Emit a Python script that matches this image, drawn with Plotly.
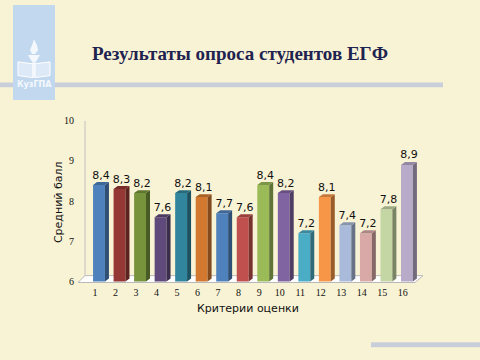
import plotly.graph_objects as go

# ---------------- data ----------------
criteria = list(range(1, 17))
scores = [8.4, 8.3, 8.2, 7.6, 8.2, 8.1, 7.7, 7.6, 8.4, 8.2, 7.2, 8.1, 7.4, 7.2, 7.8, 8.9]
bar_colors = ["#4F81BD", "#953735", "#77933C", "#604A7B", "#31859C", "#D2782F",
              "#4F81BD", "#C0504D", "#9BBB59", "#8064A2", "#4BACC6", "#F79646",
              "#A9BADA", "#D9A9A8", "#C4D6A4", "#B8ABCA"]
y_ticks = [6, 7, 8, 9, 10]
title_text = "Результаты опроса студентов ЕГФ"
x_title = "Критерии оценки"
y_title = "Средний балл"
logo_text = "КузГПА"

W, H = 480, 360
BG = "#F9F3D5"

# axis geometry (pixels)
PX_PER_CAT = 20.53
FIRST_PX = 99.0
X_DOM = (75, 430)
Y_DOM = (118, 286)
Y_MIN = 6 - 4 / 41.0
Y_MAX = 10


def px_to_x(px):
    return 1 + (px - FIRST_PX) / PX_PER_CAT


x_range = [px_to_x(X_DOM[0]), px_to_x(X_DOM[1])]

half = 0.29          # half front width (category units)
dx = 4 / PX_PER_CAT  # depth offset x
dy = 3 / 41.0        # depth offset y


def shade(hex_color, f):
    h = hex_color.lstrip("#")
    r, g, b = int(h[0:2], 16), int(h[2:4], 16), int(h[4:6], 16)
    if f < 1:
        r, g, b = int(r * f), int(g * f), int(b * f)
    else:
        t = f - 1
        r, g, b = int(r + (255 - r) * t), int(g + (255 - g) * t), int(b + (255 - b) * t)
    return f"rgb({r},{g},{b})"


fig = go.Figure()

# front faces
fig.add_trace(go.Bar(
    x=criteria, y=[s - 6 for s in scores], base=[6] * len(scores),
    width=2 * half, marker=dict(color=bar_colors, line=dict(width=0)),
    showlegend=False, hoverinfo="skip"))

# side and top faces
for c, s, col in zip(criteria, scores, bar_colors):
    xr = c + half
    fig.add_trace(go.Scatter(
        x=[xr, xr + dx, xr + dx, xr, xr], y=[6, 6 + dy, s + dy, s, 6],
        fill="toself", fillcolor=shade(col, 0.62), mode="lines",
        line=dict(width=0, color=shade(col, 0.62)), showlegend=False, hoverinfo="skip"))
    fig.add_trace(go.Scatter(
        x=[c - half, xr, xr + dx, c - half + dx, c - half], y=[s, s, s + dy, s + dy, s],
        fill="toself", fillcolor=shade(col, 0.8), mode="lines",
        line=dict(width=0, color=shade(col, 0.8)), showlegend=False, hoverinfo="skip"))

# data labels
fig.add_trace(go.Scatter(
    x=[c + dx / 2 for c in criteria], y=[s + dy + 0.02 for s in scores],
    mode="text", text=[f"{s:.1f}".replace(".", ",") for s in scores],
    textposition="top center",
    textfont=dict(family="DejaVu Sans", size=11, color="#111111"),
    showlegend=False, hoverinfo="skip", cliponaxis=False))

shapes = []
# floor
fl_front = 6 - 1 / 41.0
fl_back = 6 + 6 / 41.0
shapes.append(dict(
    type="path", xref="x", yref="y", layer="below",
    path=(f"M {px_to_x(78)},{fl_front} L {px_to_x(85)},{fl_back} "
          f"L {px_to_x(423)},{fl_back} L {px_to_x(415)},{fl_front} Z"),
    fillcolor="#FFFFFF", line=dict(color="#B8B8B8", width=1)))
# wall line
shapes.append(dict(type="line", xref="x", yref="y", layer="below",
                   x0=px_to_x(85), x1=px_to_x(85), y0=fl_back, y1=Y_MAX,
                   line=dict(color="#C0C0C0", width=1)))


def pp(px, py):
    return px / W, 1 - py / H


def prect(x0, y0, x1, y1, color):
    a = pp(x0, y0)
    b = pp(x1, y1)
    return dict(type="rect", xref="paper", yref="paper", x0=a[0], y0=b[1], x1=b[0], y1=a[1],
                fillcolor=color, line=dict(width=0), layer="below")


def ppath(points, fill, line_color=None, width=0):
    s = ""
    for i, (x, y) in enumerate(points):
        px, py = pp(x, y)
        s += ("M " if i == 0 else " L ") + f"{px:.5f},{py:.5f}"
    s += " Z"
    return dict(type="path", xref="paper", yref="paper", path=s, fillcolor=fill,
                line=dict(width=width, color=line_color or fill), layer="above")


# header line, logo, bottom line
shapes.append(prect(0, 79, 443, 84, "#C9CFDA"))
shapes.append(prect(13, 0, 55, 97, "#C2D8EF"))
shapes.append(prect(371, 344, 480, 349, "#C9CFDA"))
# logo icon (book + torch)
shapes.append(ppath([(18, 58), (33, 60), (33, 74), (18, 72)], "rgba(255,255,255,0.45)", "#FFFFFF", 1))
shapes.append(ppath([(35, 60), (50, 58), (50, 72), (35, 74)], "rgba(255,255,255,0.45)", "#FFFFFF", 1))
shapes.append(ppath([(28, 51), (40, 51), (36, 58), (32, 58)], "#F4F8FD"))
shapes.append(prect(32.5, 58, 35.5, 74, "#F4F8FD"))
shapes[-1]["layer"] = "above"
shapes.append(ppath([(34, 35), (37, 41), (38, 46), (35, 50), (32, 50), (30, 46), (32, 41)], "#F4F8FD"))

annotations = [
    dict(text=f"<b>{title_text}</b>", x=240 / W, y=1 - 49 / H, xref="paper", yref="paper",
         showarrow=False, xanchor="center", yanchor="middle",
         font=dict(family="Liberation Serif", size=19, color="#1F2350")),
    dict(text=x_title, x=248 / W, y=1 - 310 / H, xref="paper", yref="paper",
         showarrow=False, xanchor="center", yanchor="middle",
         font=dict(family="DejaVu Sans", size=11, color="#111111")),
    dict(text=y_title, x=58 / W, y=1 - 201 / H, xref="paper", yref="paper",
         showarrow=False, xanchor="center", yanchor="middle", textangle=-90,
         font=dict(family="DejaVu Sans", size=11, color="#111111")),
    dict(text=f"<b>{logo_text}</b>", x=34 / W, y=1 - 81 / H, xref="paper", yref="paper",
         showarrow=False, xanchor="center", yanchor="middle",
         font=dict(family="DejaVu Sans", size=8, color="#F4F8FD")),
]

fig.update_layout(
    width=W, height=H, autosize=False,
    margin=dict(l=0, r=0, t=0, b=0),
    paper_bgcolor=BG, plot_bgcolor="rgba(0,0,0,0)",
    showlegend=False,
    shapes=shapes, annotations=annotations,
    xaxis=dict(domain=[X_DOM[0] / W, X_DOM[1] / W], range=x_range,
               tickvals=[c - 0.2 for c in criteria], ticktext=[str(c) for c in criteria],
               showgrid=False, zeroline=False, showline=False, ticks="",
               tickfont=dict(family="Liberation Serif", size=10, color="#111111")),
    yaxis=dict(domain=[1 - Y_DOM[1] / H, 1 - Y_DOM[0] / H], range=[Y_MIN, Y_MAX],
               tickvals=y_ticks, ticktext=[str(t) for t in y_ticks],
               showgrid=False, zeroline=False, showline=False, ticks="",
               ticklabelstandoff=0,
               tickfont=dict(family="Liberation Serif", size=10, color="#111111")),
)

fig.write_html("out.html", config={"displayModeBar": False},
               post_script="document.body.style.margin='0';")
